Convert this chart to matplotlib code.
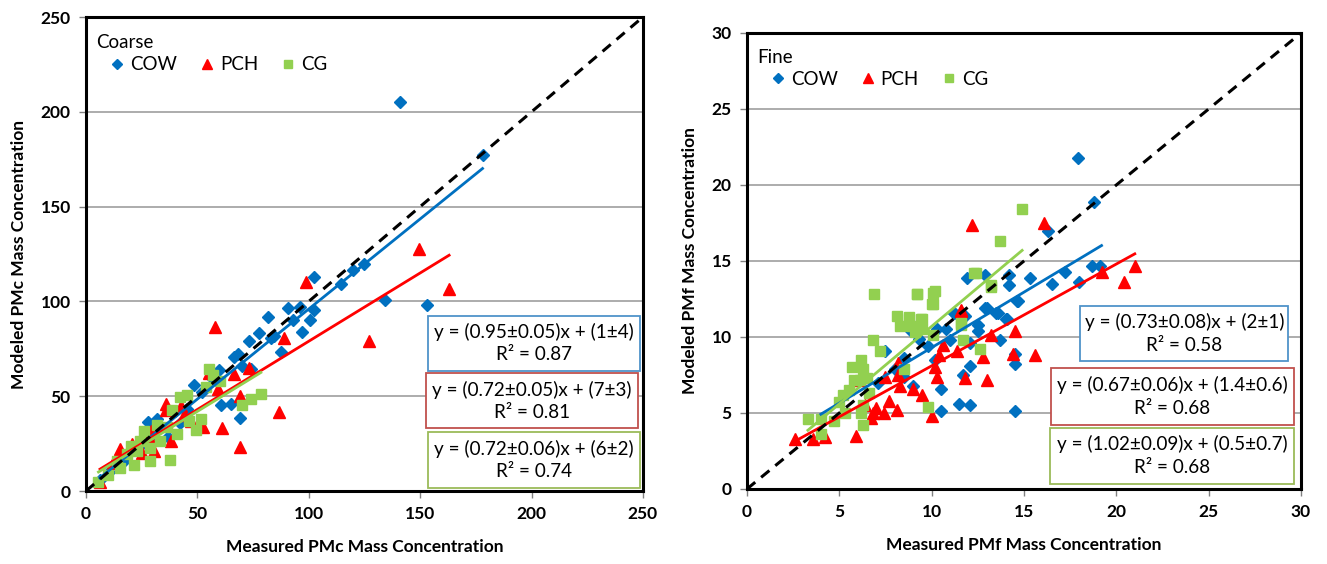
import matplotlib as mpl

mpl.use("Agg")

import matplotlib.pyplot as plt
from matplotlib.lines import Line2D
from matplotlib.patches import Rectangle

plt.rcParams["font.family"] = ["Lato", "DejaVu Sans"]

# ---------------- data: coarse (PMc) ----------------
c_cow_x = [141, 178, 153, 134, 125, 120, 114.5, 102.5, 102.5, 100.5, 97, 96, 92.8, 90.6, 87.5,
           84.6, 83, 81.6, 77.8, 73.3, 68.3, 66.3, 70, 74, 59.6, 56.3, 60.4, 65, 69.3, 48.4,
           45.4, 52, 32, 28, 37, 22, 17, 10.4, 6.2, 40, 42, 30, 25, 14]
c_cow_y = [205, 177, 98, 100.5, 120, 116.5, 109, 113, 95.6, 90, 84, 97, 90.4, 96.5, 73.5,
           81.6, 80.7, 92, 83.3, 79, 72.5, 70.7, 66, 64.5, 64, 60, 45.2, 45.7, 38.7, 55.7,
           43.4, 52, 38, 36.4, 28.5, 23, 16, 10, 5.6, 42, 36, 30, 25, 14]

c_pch_x = [98.8, 163, 149.4, 126.9, 88.8, 58, 73, 66.5, 69.3, 86.6, 69.3, 61, 59.3, 35.7, 47,
           52.3, 38, 30.4, 28.2, 20.6, 15.4, 6.3, 35.7, 42.5, 29, 25, 12, 44, 55]
c_pch_y = [110.2, 106.7, 127.5, 79.1, 80.8, 86.5, 65, 61.5, 50, 41.7, 23.2, 33, 54, 42.5, 37,
           33.6, 26.4, 21.1, 28.6, 25, 22.3, 5, 46, 45, 31.6, 20, 15, 40, 62]

c_cg_x = [55.4, 78.5, 74.1, 70, 51.8, 49.6, 37.9, 42, 45.4, 53.8, 57.1, 38.7, 28.9, 25.9, 24.4,
          21.4, 18.4, 13.9, 10.1, 5.6, 28.9, 33.4, 41, 46.2, 36.4, 22.9, 15.4, 60, 32, 20]
c_cg_y = [64.5, 51.3, 48.7, 45.2, 38.1, 32, 16.2, 49.6, 50.4, 54.8, 61, 42.5, 15.7, 31.8, 26.4,
          13.9, 19.3, 15.7, 8.6, 5, 22.9, 26.4, 30, 37.1, 33.6, 21, 12.1, 58, 35, 24]

# ---------------- data: fine (PMf) ----------------
f_cow_x = [17.9, 18.8, 16.3, 18.7, 19.1, 17.2, 11.9, 12.9, 14.2, 15.3, 14.2, 16.5, 18.0, 14.7,
           13.0, 13.6, 14.1, 12.5, 11.2, 14.5, 12.1, 11.5, 10.5, 10.5, 11.7, 12.1, 14.5, 14.5,
           13.7, 12.5, 12.1, 11.0, 10.8, 10.3, 9.8, 11.2, 11.8, 12.9, 13.5, 14.0, 14.6, 8.5,
           9.0, 7.5, 8.0, 7.1, 8.5, 10.2, 9.3, 8.9]
f_cow_y = [21.8, 18.9, 17.0, 14.7, 14.7, 14.3, 13.9, 14.1, 14.1, 13.9, 13.4, 13.5, 13.6, 12.4,
           11.9, 11.6, 11.2, 10.8, 11.6, 5.1, 5.5, 5.6, 5.1, 6.6, 7.5, 8.1, 8.2, 8.9,
           9.8, 10.4, 9.6, 9.8, 10.5, 10.5, 9.4, 11.6, 11.4, 11.9, 11.6, 11.2, 12.4, 8.6,
           6.8, 9.1, 7.9, 7.0, 7.4, 8.5, 9.9, 10.4]

f_pch_x = [12.2, 16.1, 21.0, 19.2, 11.6, 20.4, 14.5, 15.6, 14.4, 12.8, 13.0, 11.8, 13.2, 11.4,
           10.4, 10.2, 10.3, 10.0, 9.0, 9.5, 8.3, 8.2, 7.7, 7.5, 8.2, 8.1, 7.4, 6.8, 7.0,
           6.7, 5.9, 4.2, 3.6, 2.6, 6.4, 6.1, 10.6, 11.6]
f_pch_y = [17.4, 17.5, 14.7, 14.3, 11.7, 13.6, 10.4, 8.8, 8.9, 8.7, 7.2, 7.3, 10.1, 9.1,
           8.8, 8.0, 7.4, 4.8, 6.6, 6.2, 6.8, 7.5, 5.8, 7.4, 8.3, 5.2, 5.0, 5.0, 5.3,
           4.7, 3.5, 3.4, 3.3, 3.3, 5.5, 7.2, 9.5, 11.8]

f_cg_x = [14.9, 13.7, 12.3, 12.4, 13.2, 9.2, 10.2, 10.1, 8.8, 9.5, 11.6, 6.9, 9.2, 10.1, 10.0,
          8.1, 8.8, 9.4, 8.3, 8.9, 9.1, 9.5, 10.1, 11.6, 11.7, 12.6, 13.2, 6.8, 7.2, 6.2,
          6.3, 5.7, 5.8, 6.1, 5.2, 5.5, 6.5, 6.6, 5.0, 6.2, 6.3, 6.3, 5.3, 4.7, 4.0, 3.3,
          4.0, 9.8, 8.5]
f_cg_y = [18.4, 16.3, 14.2, 14.2, 13.3, 12.8, 13.0, 12.2, 11.3, 11.2, 10.9, 12.8, 12.8, 12.9, 12.2,
          11.4, 11.2, 11.2, 10.7, 10.7, 10.3, 10.5, 10.1, 10.8, 9.8, 9.2, 13.4, 9.8, 9.1, 8.5,
          7.9, 8.0, 7.2, 7.2, 6.2, 6.5, 7.3, 6.3, 5.7, 5.0, 4.2, 5.5, 5.0, 4.5, 4.6, 4.6,
          3.6, 5.4, 7.9]

# fit lines (slope, intercept, x range)
c_fit = {"COW": (0.95, 1, 6.2, 178), "PCH": (0.72, 7, 6.3, 163), "CG": (0.72, 6, 5.6, 78.5)}
f_fit = {"COW": (0.73, 2, 4.0, 19.2), "PCH": (0.67, 1.4, 2.6, 21.0), "CG": (1.02, 0.5, 3.3, 14.9)}

c_eq = ["y = (0.95\u00b10.05)x + (1\u00b14)\nR\u00b2 = 0.87",
        "y = (0.72\u00b10.05)x + (7\u00b13)\nR\u00b2 = 0.81",
        "y = (0.72\u00b10.06)x + (6\u00b12)\nR\u00b2 = 0.74"]
f_eq = ["y = (0.73\u00b10.08)x + (2\u00b11)\nR\u00b2 = 0.58",
        "y = (0.67\u00b10.06)x + (1.4\u00b10.6)\nR\u00b2 = 0.68",
        "y = (1.02\u00b10.09)x + (0.5\u00b10.7)\nR\u00b2 = 0.68"]

# ---------------- style ----------------
COL = {"COW": "#0070c0", "PCH": "#ff0000", "CG": "#92d050"}
BOX_COL = ["#4f93c9", "#c0504d", "#9bbb59"]
MK = {"COW": ("D", 6), "PCH": ("^", 8.5), "CG": ("s", 7)}

fig = plt.figure(figsize=(13.27, 5.64), dpi=100)
ax1 = fig.add_axes([0.0648, 0.1294, 0.4197, 0.8404])
ax2 = fig.add_axes([0.5629, 0.1330, 0.4175, 0.8085])


def draw_panel(ax, series, fits, eqs, lim, step, title, boxes, xlabel, ylabel):
    ax.set_xlim(0, lim)
    ax.set_ylim(0, lim)
    ax.set_xticks(range(0, lim + 1, step))
    ax.set_yticks(range(0, lim + 1, step))
    ax.yaxis.grid(True, color="#a6a6a6", lw=1.3)
    ax.set_axisbelow(True)
    for sp in ax.spines.values():
        sp.set_linewidth(2.2)
        sp.set_color("black")
    ax.tick_params(length=5, width=1, color="#808080", labelsize=12.5, pad=6)
    for lab in ax.get_xticklabels() + ax.get_yticklabels():
        lab.set_fontweight("bold")

    for name, (xs, ys) in series.items():
        m, s = MK[name]
        ax.plot(xs, ys, ls="none", marker=m, ms=s, color=COL[name], mec=COL[name], zorder=3)
    for name, (a, b, x0, x1) in fits.items():
        ax.plot([x0, x1], [a * x0 + b, a * x1 + b], color=COL[name], lw=2, zorder=4)
    ax.plot([0, lim], [0, lim], color="black", lw=2.2, ls=(0, (3.5, 2.5)), zorder=5)

    for (x0, x1, y0, y1), txt, ec in zip(boxes, eqs, BOX_COL):
        ax.add_patch(Rectangle((x0, y0), x1 - x0, y1 - y0, transform=ax.transAxes,
                               fc="white", ec=ec, lw=1.3, zorder=6))
        ax.text((x0 + x1) / 2, (y0 + y1) / 2, txt, transform=ax.transAxes, ha="center",
                va="center", fontsize=13.6, linespacing=1.4, zorder=7)

    ax.text(0.018, 0.965, title, transform=ax.transAxes, ha="left", va="top",
            fontsize=13.5)
    handles = [Line2D([], [], ls="none", marker=MK[n][0], ms=MK[n][1] * 0.85, color=COL[n])
               for n in ["COW", "PCH", "CG"]]
    ax.legend(handles, ["COW", "PCH", "CG"], loc="upper left", bbox_to_anchor=(0.035, 0.925),
              ncol=3, frameon=False, handlelength=0.8, handletextpad=0.3, columnspacing=1.2,
              borderaxespad=0, borderpad=0.2, prop={"size": 13.5})
    ax.set_xlabel(xlabel, fontsize=12.5, fontweight="bold", labelpad=12)
    ax.set_ylabel(ylabel, fontsize=12.5, fontweight="bold", labelpad=10)


draw_panel(ax1,
           {"COW": (c_cow_x, c_cow_y), "PCH": (c_pch_x, c_pch_y), "CG": (c_cg_x, c_cg_y)},
           c_fit, c_eq, 250, 50, "Coarse",
           [(0.614, 0.995, 0.254, 0.370), (0.610, 0.992, 0.132, 0.248),
            (0.614, 0.995, 0.007, 0.124)],
           "Measured PMc Mass Concentration", "Modeled PMc Mass Concentration")

draw_panel(ax2,
           {"COW": (f_cow_x, f_cow_y), "PCH": (f_pch_x, f_pch_y), "CG": (f_cg_x, f_cg_y)},
           f_fit, f_eq, 30, 5, "Fine",
           [(0.602, 0.977, 0.280, 0.402), (0.549, 0.987, 0.141, 0.265),
            (0.547, 0.987, 0.012, 0.134)],
           "Measured PMf Mass Concentration", "Modeled PMf Mass Concentration")

fig.savefig("out.png", dpi=100)
